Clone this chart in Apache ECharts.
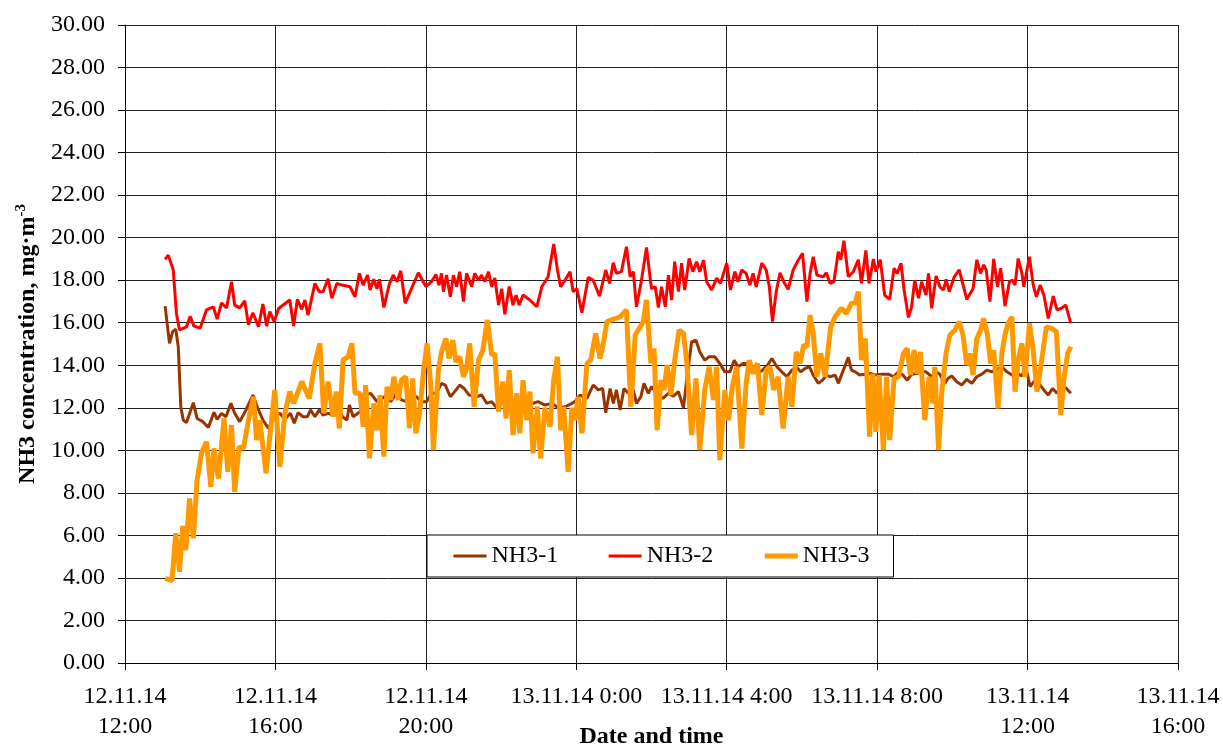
<!DOCTYPE html>
<html>
<head>
<meta charset="utf-8">
<script src="https://cdn.jsdelivr.net/npm/echarts@6/dist/echarts.min.js"></script>
<style>
html, body { margin: 0; padding: 0; background: #fff; }
#chart { width: 1223px; height: 745px; }
</style>
</head>
<body>
<div id="chart"></div>
<script>
// time = minutes after 12.11.14 12:00, values in mg·m-3
const nh3_1_time = [64,71,76,81,85,89,93,98,109,115,124,133,142,147,154,161,169,175,183,193,204,211,220,229,239,247,255,264,270,276,284,291,296,303,310,316,324,332,340,347,354,358,364,375,383,392,402,410,418,424,433,441,449,457,465,473,481,489,497,505,511,519,526,534,541,549,
  561,569,577,585,593,601,609,619,630,641,651,659,670,681,691,702,710,718,726,737,747,755,762,767,774,779,784,790,796,803,811,816,823,828,835,840,848,858,867,875,883,891,896,904,911,917,925,932,941,949,957,965,972,978,986,996,1002,1009,1017,1025,1032,1040,1048,1056,1064,1071,1078,1085,1092,1098,1106,1113,1119,
  1125,1133,1138,1145,1154,1159,1165,1172,1181,1189,1197,1207,1218,1226,1234,1241,1248,1255,1263,1271,1278,1287,1294,1300,1308,1313,1319,1327,1335,1343,1351,1359,1367,1375,1383,1391,1399,1407,1415,1423,1431,1437,1444,1452,1460,1466,1473,1480,1487,1494,1502,1509]
const nh3_1_value = [16.78,15.03,15.58,15.69,14.87,12.05,11.42,11.3,12.24,11.5,11.35,11.08,11.79,11.46,11.74,11.58,12.21,11.74,11.35,11.9,12.6,12.05,11.42,11.03,11.58,11.74,11.46,11.74,11.27,11.77,11.58,11.58,11.9,11.58,11.9,11.66,11.74,11.66,11.97,11.58,11.42,12.13,11.58,11.82,12.6,12.68,12.29,12.44,12.6,12.29,12.68,12.37,12.29,12.52,12.52,12.29,12.29,12.68,12.68,13.15,13.07,12.52,12.76,13.07,12.91,12.6,
  12.52,12.6,12.21,12.29,12.0,12.29,12.05,12.13,12.05,12.21,12.21,12.29,12.13,12.21,12.0,12.05,12.16,12.29,12.6,12.44,13.07,12.84,12.91,11.77,12.91,12.21,12.84,11.9,12.91,12.68,12.84,12.21,12.52,13.15,12.68,13.0,12.68,12.44,12.68,12.55,12.76,12.0,13.3,15.1,15.18,14.63,14.24,14.4,14.4,14.08,13.69,13.69,14.24,13.93,14.08,14.08,13.77,13.61,13.77,14.0,14.32,13.93,13.69,13.46,13.77,13.93,13.69,13.85,13.93,13.54,13.15,13.3,13.54,
  13.46,13.54,13.15,13.69,14.37,13.77,13.69,13.54,13.58,13.61,13.54,13.58,13.58,13.46,13.69,13.54,13.3,13.58,13.61,13.69,13.69,13.46,13.69,13.58,13.15,13.38,13.5,13.23,13.07,13.34,13.15,13.46,13.58,13.77,13.69,13.81,13.93,13.69,13.54,13.61,13.5,13.93,13.0,13.3,13.07,12.84,12.6,12.91,12.68,13.02,12.91,12.68]

const nh3_2_time = [64,69,77,82,87,98,104,110,120,130,141,147,154,162,170,175,183,191,197,204,213,220,226,231,238,245,263,269,275,282,287,292,303,310,316,324,330,338,346,359,367,374,380,387,391,397,402,406,413,422,428,434,440,447,455,468,480,489,496,501,505,508,513,519,524,529,534,540,545,553,558,564,569,574,580,585,590,596,601,606,613,619,624,629,635,646,657,665,675,684,690,695,702,710,715,721,729,739,747,757,767,773,779,784,792,800,806,811,816,824,832,840,846,851,856,862,867,872,877,883,888,893,900,906,912,917,923,928,936,944,950,960,966,973,978,984,991,997,1002,1007,1016,1023,1028,1033,1039,1045,1051,1058,1066,1074,1081,1088,1093,1098,1104,1114,1119,1125,1131,1138,1142,1147,1154,1162,1170,1175,1182,1187,1194,1198,1205,1212,1220,1227,1232,1238,1243,1250,1255,1260,1266,1271,1278,1282,1287,1294,1300,1306,1310,1315,1323,1331,1343,1353,1359,1365,1370,1374,1380,1386,1392,1397,1404,1411,1416,1420,1425,1431,1434,1443,1449,1454,1460,1466,1473,1481,1487,1494,1501,1509]
const nh3_2_value = [18.98,19.18,18.48,16.45,15.66,15.8,16.3,15.84,15.75,16.6,16.74,16.17,16.93,16.7,17.93,16.83,16.7,17.03,15.9,16.47,15.81,16.88,15.84,16.52,16.05,16.67,17.07,15.84,17.1,16.63,17.07,16.36,17.85,17.46,17.46,18.07,17.15,17.85,17.77,17.69,17.22,18.32,17.77,18.24,17.54,18.04,17.6,18.04,16.72,17.85,18.24,17.93,18.44,16.91,17.46,18.35,17.7,17.93,18.27,17.77,18.32,17.46,18.24,17.22,18.24,17.7,18.4,16.99,18.32,17.7,18.32,18.0,18.24,17.93,18.4,17.69,18.1,16.83,17.6,16.4,17.7,16.83,17.3,16.83,17.3,17.07,16.75,17.69,18.16,19.7,18.48,17.69,18.0,18.4,17.46,17.6,16.47,18.13,18.0,17.25,18.48,17.85,18.82,18.32,18.4,19.57,18.16,18.4,16.75,18.0,19.54,17.6,17.69,16.72,17.69,16.75,18.24,17.07,18.87,17.46,18.8,17.54,19.02,18.4,18.87,18.4,18.94,17.93,17.54,18.1,17.85,18.8,17.54,18.4,17.93,18.48,18.32,17.77,18.32,17.69,18.8,18.48,17.69,16.05,17.46,18.35,17.93,17.57,18.48,18.94,19.26,16.99,18.32,19.1,18.24,18.16,18.35,17.85,17.93,19.34,18.96,19.86,18.16,18.4,18.96,17.85,19.4,17.85,19.0,18.4,18.96,17.3,17.1,18.56,18.32,18.8,17.54,16.25,16.75,18.0,17.15,17.93,17.3,18.32,16.68,18.2,17.69,17.54,18.04,17.46,18.16,18.48,17.1,17.6,18.96,18.32,18.72,18.48,16.99,19.0,17.69,18.56,16.78,17.93,18.0,17.77,19.02,18.32,17.69,19.1,17.77,17.22,17.77,17.3,16.2,17.25,16.6,16.68,16.83,15.97]

const nh3_3_time = [64,75,81,87,92,97,103,109,115,122,130,137,142,149,158,164,170,175,182,189,197,205,210,215,225,231,239,247,255,263,269,274,282,287,294,303,311,317,324,332,337,342,348,356,362,367,375,380,384,390,397,402,407,413,418,424,429,436,441,448,454,459,464,470,477,482,488,492,500,505,512,517,523,528,534,540,545,550,557,564,571,578,585,590,596,603,608,613,619,625,630,635,641,646,651,658,663,670,678,684,690,695,700,707,713,718,723,729,737,743,751,758,764,769,776,783,790,796,800,807,814,822,827,832,839,844,849,855,860,865,871,877,884,891,896,904,911,917,925,932,939,944,949,957,963,969,976,984,991,996,1002,1009,1016,1023,1029,1035,1042,1050,1058,1064,1071,1077,1083,1088,1093,1098,1104,1110,1117,1121,1126,1133,1143,1151,1159,1165,1170,1175,1181,1188,1193,1198,1203,1210,1215,1220,1227,1234,1242,1248,1253,1259,1264,1269,1276,1283,1289,1292,1298,1303,1310,1316,1324,1331,1337,1343,1348,1353,1359,1365,1370,1376,1381,1386,1393,1399,1404,1409,1415,1420,1425,1431,1436,1443,1449,1455,1461,1470,1478,1486,1493,1498,1504,1509]
const nh3_3_value = [3.98,3.87,6.1,4.29,6.44,5.31,7.74,5.86,8.6,9.86,10.4,8.29,10.09,8.68,11.5,8.99,11.19,8.05,10.17,10.09,11.42,12.52,10.48,11.42,8.92,10.64,12.84,9.23,11.74,12.76,12.21,12.6,13.23,12.91,12.44,14.09,15.03,11.74,13.23,11.58,12.76,11.03,14.25,14.4,15.03,12.68,12.68,11.11,13.07,9.62,12.21,10.95,12.6,9.7,12.99,12.37,13.46,12.37,13.3,13.46,11.03,13.38,10.8,11.74,13.93,15.03,12.99,10.01,13.77,14.64,15.26,14.32,15.18,14.16,14.4,13.46,13.85,15.03,12.05,14.24,14.71,16.13,14.48,14.56,11.82,13.23,11.5,13.77,10.72,12.68,10.8,13.3,11.42,12.76,9.86,12.05,9.62,12.0,11.11,13.3,14.4,10.95,12.05,8.99,12.0,11.42,12.52,10.8,14.09,14.24,15.5,14.32,15.18,16.05,16.13,16.2,16.28,16.47,16.6,12.05,15.42,15.81,16.05,17.07,14.09,14.79,10.95,13.3,12.84,14.01,12.6,14.24,15.65,15.5,14.24,10.72,13.38,10.01,12.84,13.93,12.37,13.93,9.54,12.84,11.42,12.99,13.93,10.08,13.15,14.24,13.61,14.09,11.66,13.77,13.93,12.84,13.46,11.03,13.46,12.05,14.63,14.09,14.96,14.87,16.36,15.5,13.46,14.56,13.46,14.56,15.81,16.28,16.68,16.44,16.91,16.94,17.46,14.24,15.26,10.64,13.61,10.87,13.54,10.01,13.46,10.48,13.38,13.46,14.56,14.79,13.54,14.71,13.61,14.63,11.42,13.46,12.21,13.93,10.01,12.68,14.56,15.42,15.65,16.05,15.42,14.01,14.56,13.54,15.26,15.65,16.2,15.42,14.09,14.71,11.97,14.56,15.42,15.97,16.28,12.76,14.24,15.03,13.46,15.97,14.71,12.76,13.93,15.81,15.73,15.58,11.66,13.38,14.56,14.87]

const xTickLabels = ['12.11.14\n12:00', '12.11.14\n16:00', '12.11.14\n20:00', '13.11.14 0:00', '13.11.14 4:00', '13.11.14 8:00', '13.11.14\n12:00', '13.11.14\n16:00']
const yTickLabels = ['0.00', '2.00', '4.00', '6.00', '8.00', '10.00', '12.00', '14.00', '16.00', '18.00', '20.00', '22.00', '24.00', '26.00', '28.00', '30.00']

const serif = '"Liberation Serif", "Times New Roman", serif'
const pairs = (t, v) => t.map((m, i) => [m, v[i]])

const chart = echarts.init(document.getElementById('chart'))

const option = {
  animation: false,
  backgroundColor: '#fff',
  grid: { left: 125, right: 45, top: 25, bottom: 82, outerBoundsMode: 'none' },
  legend: {
    left: 427,
    top: 535,
    padding: [9, 24, 9, 25],
    itemGap: 49,
    itemWidth: 33,
    itemHeight: 14,
    itemStyle: { opacity: 0 },
    lineStyle: { width: 'inherit' },
    backgroundColor: '#fff',
    borderColor: '#000',
    borderWidth: 1,
    textStyle: { fontFamily: serif, fontSize: 24, color: '#000' },
    data: ['NH3-1', 'NH3-2', 'NH3-3']
  },
  xAxis: {
    type: 'value',
    min: 0,
    max: 1680,
    interval: 240,
    name: 'Date and time',
    nameLocation: 'middle',
    nameGap: 62,
    nameMoveOverlap: false,
    nameTextStyle: { fontFamily: serif, fontSize: 24, fontWeight: 'bold', color: '#000' },
    axisLine: { onZero: false, lineStyle: { color: '#000', width: 1 } },
    axisTick: { show: true, length: 7, lineStyle: { color: '#000' } },
    axisLabel: {
      margin: 19,
      fontFamily: serif,
      fontSize: 24,
      lineHeight: 30,
      color: '#000',
      formatter: v => xTickLabels[Math.round(v / 240)]
    },
    splitLine: { show: true, lineStyle: { color: '#222', width: 1 } }
  },
  yAxis: {
    type: 'value',
    min: 0,
    max: 30,
    interval: 2,
    name: 'NH3 concentration, mg·m{sup|-3}',
    nameLocation: 'middle',
    nameRotate: 90,
    nameGap: 84,
    nameMoveOverlap: false,
    nameTextStyle: {
      fontFamily: serif,
      fontSize: 24,
      fontWeight: 'bold',
      color: '#000',
      rich: {
        sup: { fontFamily: serif, fontSize: 15, fontWeight: 'bold', color: '#000', padding: [0, 0, 12, 0] }
      }
    },
    axisLine: { show: true, lineStyle: { color: '#000', width: 1 } },
    axisTick: { show: true, length: 7, lineStyle: { color: '#000' } },
    axisLabel: {
      margin: 20,
      fontFamily: serif,
      fontSize: 24,
      color: '#000',
      formatter: v => yTickLabels[Math.round(v / 2)]
    },
    splitLine: { show: true, lineStyle: { color: '#222', width: 1 } }
  },
  series: [
    {
      name: 'NH3-1',
      type: 'line',
      symbol: 'none',
      data: pairs(nh3_1_time, nh3_1_value),
      lineStyle: { color: '#993300', width: 3 },
      itemStyle: { color: '#993300' }
    },
    {
      name: 'NH3-2',
      type: 'line',
      symbol: 'none',
      data: pairs(nh3_2_time, nh3_2_value),
      lineStyle: { color: '#ff0000', width: 3 },
      itemStyle: { color: '#ff0000' }
    },
    {
      name: 'NH3-3',
      type: 'line',
      symbol: 'none',
      data: pairs(nh3_3_time, nh3_3_value),
      lineStyle: { color: '#ff9900', width: 5 },
      itemStyle: { color: '#ff9900' }
    }
  ]
}

chart.setOption(option)
</script>
</body>
</html>
